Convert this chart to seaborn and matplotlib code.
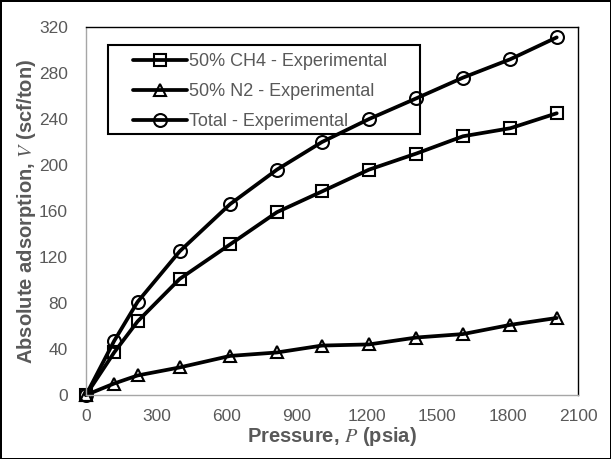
import pandas as pd
import seaborn as sns
import matplotlib.pyplot as plt
from matplotlib.patches import Rectangle

# values
pressure = [0, 120, 220, 400, 615, 815, 1007, 1208, 1410, 1609, 1811, 2009]
ch4 = [0, 37, 64, 101, 131, 159, 177, 196, 210, 225, 232, 245]
n2 = [0, 10, 17, 24, 34, 37, 43, 44, 50, 53, 61, 67]
total = [0, 47, 81, 125, 166, 196, 220, 240, 258, 276, 292, 311]

series_names = ["50% CH4 - Experimental", "50% N2 - Experimental", "Total - Experimental"]
series_markers = ["s", "^", "o"]

x_ticks = [0, 300, 600, 900, 1200, 1500, 1800, 2100]
y_ticks = [0, 40, 80, 120, 160, 200, 240, 280, 320]

GRAY = "#595959"

sns.set_theme(style="white")
plt.rcParams['font.family'] = ['Liberation Sans', 'DejaVu Sans']
plt.rcParams['mathtext.fontset'] = 'stix'

df = pd.DataFrame({
    "pressure": pressure * 3,
    "value": ch4 + n2 + total,
    "series": [series_names[0]] * len(ch4) + [series_names[1]] * len(n2) + [series_names[2]] * len(total),
})

fig = plt.figure(figsize=(6.11, 4.59), dpi=100, edgecolor="black", linewidth=2)
ax = fig.add_axes([0.1408, 0.1394, 0.8052, 0.8017])

for name, mk in zip(series_names, series_markers):
    sub = df[df["series"] == name]
    sns.lineplot(data=sub, x="pressure", y="value", ax=ax, color="black", lw=2.7,
                 marker=mk, markersize=9.3, markerfacecolor="none",
                 markeredgecolor="black", markeredgewidth=1.5, label=name, clip_on=False)

ax.set_xlim(0, 2100)
ax.set_ylim(0, 320)
ax.set_xticks(x_ticks)
ax.set_yticks(y_ticks)
ax.tick_params(axis="both", labelsize=12.5, labelcolor=GRAY)
ax.tick_params(axis="y", left=False, length=0, pad=13)
ax.tick_params(axis="x", bottom=False, length=0, pad=10)

ax.spines["left"].set_color("#a6a6a6")
ax.spines["bottom"].set_color("#a6a6a6")
ax.spines["top"].set_color("black")
ax.spines["right"].set_color("black")
for sp in ax.spines.values():
    sp.set_linewidth(1.0)

ax.set_xlabel("Pressure, $P$ (psia)", fontsize=14.5, fontweight="bold", color=GRAY, labelpad=1)
ax.set_ylabel("Absolute adsorption, $V$ (scf/ton)", fontsize=14.5, fontweight="bold", color=GRAY)
ax.yaxis.set_label_coords(-0.097, 0.5)

# legend without its own frame; box drawn separately to get Excel's wide side padding
leg = ax.legend(loc="upper left", bbox_to_anchor=(0.0955, 0.929), fontsize=13, frameon=False,
                handlelength=3.0, handletextpad=0.1, borderpad=0, borderaxespad=0,
                labelspacing=0.72)
for t in leg.get_texts():
    t.set_color(GRAY)
ax.add_patch(Rectangle((0.0447, 0.709), 0.678 - 0.0447, 0.9524 - 0.709, transform=ax.transAxes,
                       fill=False, edgecolor="black", lw=1.5, zorder=5, clip_on=False))

fig.savefig("out.png", dpi=100, edgecolor=fig.get_edgecolor())
